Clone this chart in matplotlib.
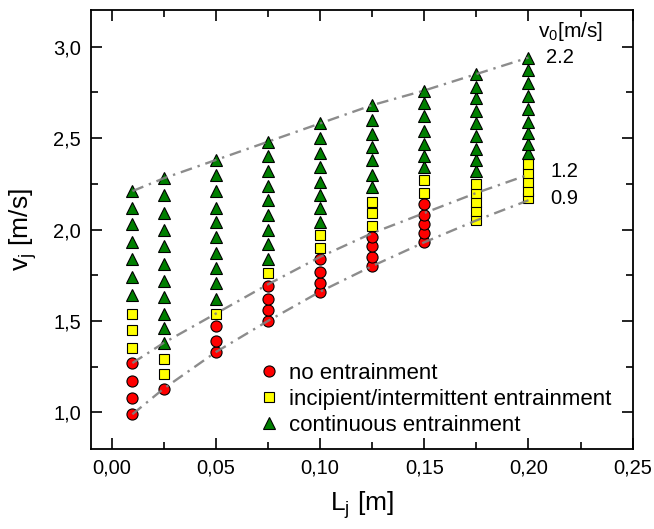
import matplotlib
matplotlib.use("Agg")
import matplotlib.pyplot as plt
from matplotlib.ticker import MultipleLocator, FuncFormatter

# jet length L_j [m] for each measured column
L_j = [0.01, 0.025, 0.05, 0.075, 0.10, 0.125, 0.15, 0.175, 0.20]

# jet velocity v_j [m/s] per column, split by regime
no_entrainment = [
    [0.99, 1.08, 1.17, 1.27],
    [1.13],
    [1.33, 1.39, 1.47],
    [1.50, 1.56, 1.62, 1.69],
    [1.66, 1.71, 1.77, 1.84],
    [1.80, 1.85, 1.91, 1.96],
    [1.93, 1.98, 2.03, 2.08, 2.14],
    [],
    [],
]
incipient = [
    [1.35, 1.45, 1.54],
    [1.21, 1.29],
    [1.54],
    [1.76],
    [1.90, 1.97],
    [2.02, 2.09, 2.15],
    [2.20, 2.27],
    [2.05, 2.10, 2.15, 2.20, 2.25],
    [2.17, 2.21, 2.26, 2.31, 2.36],
]
continuous = [
    [1.64, 1.74, 1.84, 1.93, 2.03, 2.12, 2.21],
    [1.38, 1.46, 1.54, 1.63, 1.72, 1.81, 1.91, 2.00, 2.09, 2.19, 2.28],
    [1.62, 1.71, 1.79, 1.87, 1.96, 2.04, 2.12, 2.21, 2.30, 2.38],
    [1.84, 1.92, 2.00, 2.08, 2.16, 2.24, 2.32, 2.40, 2.48],
    [2.04, 2.12, 2.19, 2.26, 2.34, 2.42, 2.50, 2.58],
    [2.23, 2.30, 2.38, 2.45, 2.52, 2.60, 2.68],
    [2.34, 2.40, 2.47, 2.54, 2.62, 2.69, 2.76],
    [2.32, 2.38, 2.44, 2.51, 2.58, 2.65, 2.72, 2.78, 2.85],
    [2.42, 2.47, 2.53, 2.59, 2.66, 2.73, 2.80, 2.87, 2.94],
]

# iso-lines of v_0 [m/s]
v0_labels = ["2.2", "1.2", "0.9"]
v0_lines = [
    [2.21, 2.28, 2.38, 2.48, 2.58, 2.68, 2.76, 2.85, 2.94],
    [1.27, 1.38, 1.54, 1.70, 1.85, 1.98, 2.09, 2.20, 2.30],
    [0.99, 1.13, 1.33, 1.50, 1.66, 1.80, 1.93, 2.05, 2.16],
]


def flatten(cols):
    xs, ys = [], []
    for x, col in zip(L_j, cols):
        for y in col:
            xs.append(x)
            ys.append(y)
    return xs, ys


def main():
    plt.rcParams['font.family'] = ['Liberation Sans', 'DejaVu Sans']
    plt.rcParams['mathtext.fontset'] = 'custom'
    plt.rcParams['mathtext.rm'] = 'Liberation Sans'

    fig = plt.figure(figsize=(6.54, 5.29), dpi=100)
    ax = fig.add_axes([0.1387, 0.1512, 0.8287, 0.8298])

    x, y = flatten(no_entrainment)
    ax.plot(x, y, 'o', ms=8, mfc='#ff0000', mec='black', mew=0.8,
            ls='none', label='no entrainment', zorder=3)
    x, y = flatten(incipient)
    ax.plot(x, y, 's', ms=6.8, mfc='#ffff00', mec='black', mew=0.8,
            ls='none', label='incipient/intermittent entrainment', zorder=3)
    x, y = flatten(continuous)
    ax.plot(x, y, '^', ms=8, mfc='#007f00', mec='black', mew=0.8,
            ls='none', label='continuous entrainment', zorder=3)

    for line in v0_lines:
        ax.plot(L_j, line, color='#808080', lw=1.7, alpha=0.9,
                ls=(0, (5, 2.5, 1, 2.5)), zorder=4)

    # v_0 labels at the right end
    ax.text(0.2045, 3.085, r'v$_\mathregular{0}$[m/s]', fontsize=15, va='center')
    ax.text(0.2085, 2.94, v0_labels[0], fontsize=14.5, va='center')
    ax.text(0.2105, 2.32, v0_labels[1], fontsize=14.5, va='center')
    ax.text(0.2105, 2.17, v0_labels[2], fontsize=14.5, va='center')

    ax.set_xlim(-0.01, 0.25)
    ax.set_ylim(0.8, 3.2)
    ax.xaxis.set_major_locator(MultipleLocator(0.05))
    ax.xaxis.set_minor_locator(MultipleLocator(0.025))
    ax.yaxis.set_major_locator(MultipleLocator(0.5))
    ax.yaxis.set_minor_locator(MultipleLocator(0.25))
    ax.xaxis.set_major_formatter(FuncFormatter(lambda v, p: ("%.2f" % v).replace('.', ',')))
    ax.yaxis.set_major_formatter(FuncFormatter(lambda v, p: ("%.1f" % v).replace('.', ',')))
    ax.tick_params(which='both', direction='in', top=True, right=True,
                   labelsize=14.5, width=1.2)
    ax.tick_params(which='major', length=8, pad=7)
    ax.tick_params(which='minor', length=5)
    for s in ax.spines.values():
        s.set_linewidth(1.3)

    ax.set_xlabel(r'L$_\mathregular{j}$ [m]', fontsize=19, labelpad=8)
    ax.set_ylabel(r'v$_\mathregular{j}$ [m/s]', fontsize=19, labelpad=10)

    ax.legend(loc='lower left', bbox_to_anchor=(0.28, 0.0), frameon=False,
              fontsize=16, handletextpad=0.3, labelspacing=0.22,
              handlelength=1.2, borderaxespad=0.2)

    fig.savefig('out.png', dpi=100)


if __name__ == "__main__":
    main()
